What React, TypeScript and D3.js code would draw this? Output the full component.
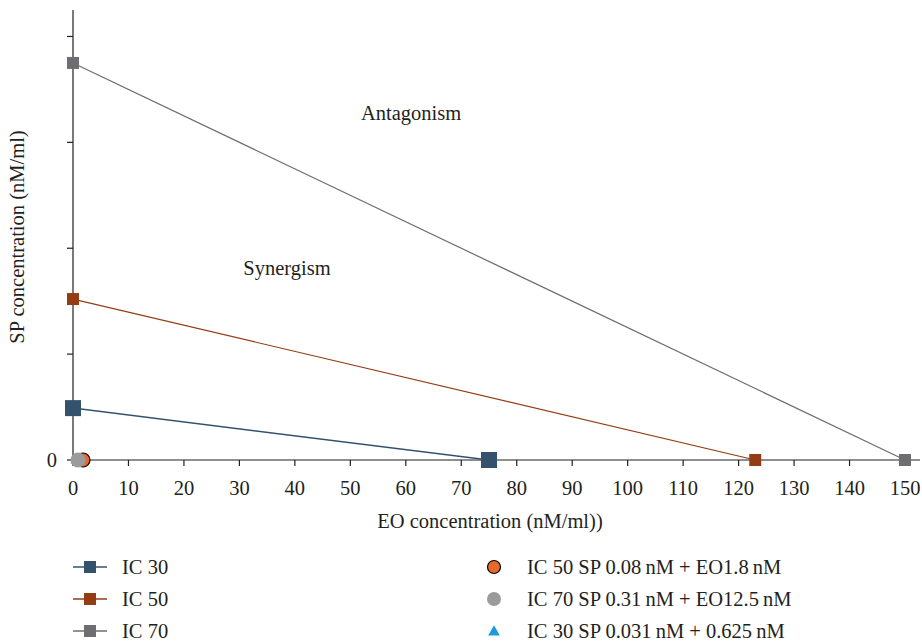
import React from "react";
import * as d3 from "d3";

const xTicks = [0, 10, 20, 30, 40, 50, 60, 70, 80, 90, 100, 110, 120, 130, 140, 150];
const yTicks = [0, 0.1, 0.2, 0.3, 0.4];
const seriesNames = ["IC 30", "IC 50", "IC 70"];
const seriesColors = ["#34526c", "#943c13", "#6e6e72"];
const seriesSP = [0.049, 0.152, 0.375];
const seriesEO = [75, 123, 150];
const seriesMarker = [16, 12, 12];
const seriesWidth = [1.5, 1.2, 1.2];
const comboNames = [
  "IC 50 SP 0.08\u2009nM + EO1.8\u2009nM",
  "IC 70 SP 0.31\u2009nM + EO12.5\u2009nM",
  "IC 30 SP 0.031\u2009nM + 0.625\u2009nM",
];
const comboColors = ["#e8692a", "#9b9b9e", "#1f9ad8"];
const comboX = [1.8, 0.9, 0.625];
const comboY = [0, 0, 0];

export default function App() {
  const W = 922, H = 642;
  const x = d3.scaleLinear().domain([0, 150]).range([73, 905]);
  const y = d3.scaleLinear().domain([0, 0.425]).range([460, 10]);
  const font = "'Liberation Serif', 'Times New Roman', serif";
  const fs = 20.5;
  const line = d3.line<[number, number]>().x(d => x(d[0])).y(d => y(d[1]));
  return (
    <svg width={W} height={H} style={{ position: "absolute", left: 0, top: 0 }} fontFamily={font}>
      <rect width={W} height={H} fill="#fff" />
      {/* axes */}
      <line x1={x(0)} x2={920} y1={y(0)} y2={y(0)} stroke="#231f20" strokeWidth={1.2} />
      <line x1={x(0)} x2={x(0)} y1={10} y2={y(0)} stroke="#231f20" strokeWidth={1.2} />
      {xTicks.map(t => (
        <g key={"x" + t}>
          <line x1={x(t)} x2={x(t)} y1={y(0)} y2={y(0) + 6} stroke="#231f20" strokeWidth={1.2} />
          <text x={x(t)} y={495} textAnchor="middle" fontSize={fs} fill="#231f20">{t}</text>
        </g>
      ))}
      {yTicks.map(t => (
        <line key={"y" + t} x1={x(0) - 6} x2={x(0)} y1={y(t)} y2={y(t)} stroke="#231f20" strokeWidth={1.2} />
      ))}
      <text x={57} y={467} textAnchor="end" fontSize={fs} fill="#231f20">0</text>
      <text x={490} y={528} textAnchor="middle" fontSize={fs} fill="#231f20">EO concentration (nM/ml))</text>
      <text transform={`translate(24,237) rotate(-90)`} textAnchor="middle" fontSize={fs} fill="#231f20">SP concentration (nM/ml)</text>
      <text x={411} y={120} textAnchor="middle" fontSize={fs} fill="#231f20">Antagonism</text>
      <text x={287} y={275} textAnchor="middle" fontSize={fs} fill="#231f20">Synergism</text>
      {/* isobole lines */}
      {seriesNames.map((n, i) => {
        const pts: [number, number][] = [[0, seriesSP[i]], [seriesEO[i], 0]];
        const s = seriesMarker[i];
        return (
          <g key={n}>
            <path d={line(pts) || ""} fill="none" stroke={seriesColors[i]} strokeWidth={seriesWidth[i]} />
            {pts.map((p, j) => (
              <rect key={j} x={x(p[0]) - s / 2} y={y(p[1]) - s / 2} width={s} height={s} fill={seriesColors[i]} />
            ))}
          </g>
        );
      })}
      {/* combination points */}
      <path d={d3.symbol(d3.symbolTriangle, 60)() || ""} transform={`translate(${x(comboX[2])},${y(comboY[2])})`} fill={comboColors[2]} />
      <circle cx={x(comboX[0])} cy={y(comboY[0])} r={7} fill={comboColors[0]} stroke="#000" strokeWidth={1.2} />
      <circle cx={x(comboX[1])} cy={y(comboY[1])} r={7.5} fill={comboColors[1]} />
      {/* legend */}
      {seriesNames.map((n, i) => {
        const ly = 567 + i * 32;
        return (
          <g key={"l" + n}>
            <line x1={73} x2={107} y1={ly} y2={ly} stroke={seriesColors[i]} strokeWidth={1.5} />
            <rect x={84} y={ly - 6} width={12} height={12} fill={seriesColors[i]} />
            <text x={122} y={ly + 7} fontSize={fs} fill="#231f20">{n}</text>
          </g>
        );
      })}
      {comboNames.map((n, i) => {
        const ly = 567 + i * 32;
        const cx = 494;
        return (
          <g key={"c" + i}>
            {i === 0 && <circle cx={cx} cy={ly} r={6.5} fill={comboColors[0]} stroke="#000" strokeWidth={1.2} />}
            {i === 1 && <circle cx={cx} cy={ly} r={7} fill={comboColors[1]} />}
            {i === 2 && <path d={d3.symbol(d3.symbolTriangle, 60)() || ""} transform={`translate(${cx},${ly + 1})`} fill={comboColors[2]} />}
            <text x={527} y={ly + 7} fontSize={fs} fill="#231f20">{n}</text>
          </g>
        );
      })}
    </svg>
  );
}
